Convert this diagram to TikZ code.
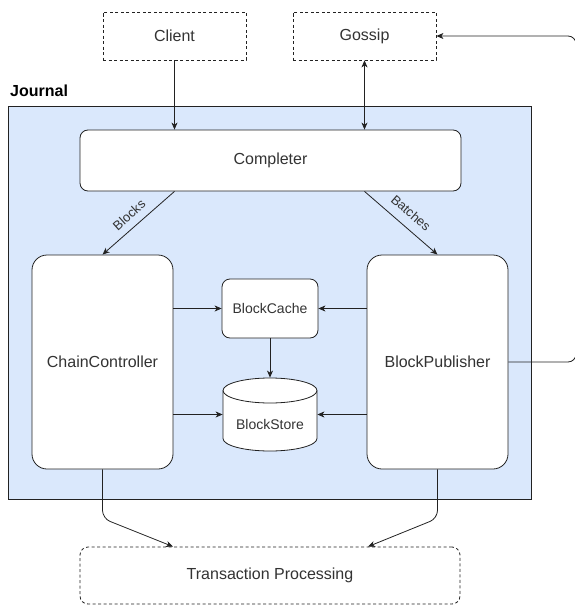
\documentclass[tikz,border=0pt]{standalone}
\usepackage{fontspec}
\setmainfont{Liberation Sans}
\usetikzlibrary{arrows.meta,calc}
\definecolor{jfill}{HTML}{DAE8FC}
\definecolor{ink}{HTML}{222222}
\definecolor{txt}{HTML}{333333}
\begin{document}
\begin{tikzpicture}[x=1pt,y=-1pt,
  base/.style={draw=ink, line width=0.8pt, text=txt, inner sep=0pt, font=\fontsize{16}{19}\selectfont},
  solidbox/.style={base, fill=white},
  dbox/.style={base, fill=white, dash pattern=on 3pt off 2.5pt},
  arr/.style={draw=ink, line width=0.8pt, -{Stealth[length=7pt,width=6pt,inset=2pt]}},
  darr/.style={draw=ink, line width=0.8pt, {Stealth[length=7pt,width=6pt,inset=2pt]}-{Stealth[length=7pt,width=6pt,inset=2pt]}},
  lbl/.style={text=txt, inner sep=1pt, font=\fontsize{13}{15}\selectfont},
  small/.style={font=\fontsize{14}{16}\selectfont}
]
\useasboundingbox (0,0) rectangle (574,605);

% Journal container
\node[draw=ink, line width=1pt, fill=jfill, minimum width=523, minimum height=393, inner sep=0pt] (journal) at (269.5,302.5) {};
\node[anchor=west, inner sep=0pt, text=black, font=\bfseries\fontsize{16}{19}\selectfont] (jlabel) at (10,91) {Journal};

% external boxes
\node[dbox, minimum width=143, minimum height=48] (client) at (174.5,36) {Client};
\node[dbox, minimum width=143, minimum height=48] (gossip) at (364.5,36) {Gossip};
\node[dbox, rounded corners=8, minimum width=380, minimum height=57] (tp) at (270,575.5) {Transaction Processing};

% inner boxes
\node[solidbox, rounded corners=8, minimum width=381, minimum height=61] (completer) at (270.5,160.5) {Completer};
\node[solidbox, rounded corners=15, minimum width=141, minimum height=214] (cc) at (102.5,362) {ChainController};
\node[solidbox, rounded corners=15, minimum width=141, minimum height=214] (bp) at (437.5,362) {BlockPublisher};
\node[solidbox, small, rounded corners=8, minimum width=96, minimum height=59] (cache) at (270,308.5) {BlockCache};

% BlockStore cylinder
\draw[draw=ink, line width=0.8pt, fill=white] (223,390.5) -- (223,438.5)
  arc[start angle=180, end angle=360, x radius=47pt, y radius=12.5pt] -- (317,390.5)
  arc[start angle=0, end angle=180, x radius=47pt, y radius=12.5pt] -- cycle;
\draw[draw=ink, line width=0.8pt] (223,390.5) arc[start angle=180, end angle=360, x radius=47pt, y radius=12.5pt];
\node[base, draw=none, small, minimum width=94, minimum height=73] (store) at (270,414.5) {};
\node[text=txt, inner sep=0pt, small] (storetext) at (270,424) {BlockStore};

% top connectors
\draw[arr] (client.south) -- (client.south |- completer.north);
\draw[darr] (gossip.south) -- (gossip.south |- completer.north);

% Completer -> CC / BP
\draw[arr] (client.south |- completer.south) -- (cc.north);
\node[lbl, rotate=42] (blockslbl) at (129,215) {Blocks};
\draw[arr] (gossip.south |- completer.south) -- (bp.north);
\node[lbl, rotate=-41] (batcheslbl) at (411,213) {Batches};

% CC / BP -> cache / store
\draw[arr] (cc.east |- cache) -- (cache);
\draw[arr] (cc.east |- store) -- (store);
\draw[arr] (bp.west |- cache) -- (cache);
\draw[arr] (bp.west |- store) -- (store);
\draw[arr] (cache) -- (store);

% to Transaction Processing
\coordinate (tpl) at ($(tp.north)+(-97,0)$);
\coordinate (tpr) at ($(tp.north)+(98,0)$);
\draw[arr, rounded corners=8] (cc.south) -- ++(0,49) -- (tpl);
\draw[arr, rounded corners=8] (bp.south) -- ++(0,49) -- (tpr);

% loop back to Gossip
\coordinate (rb) at (576,362);
\coordinate (rt) at (576,36);
\draw[arr, rounded corners=8] (bp.east) -- (rb) -- (rt) -- (gossip.east);
\end{tikzpicture}
\end{document}
